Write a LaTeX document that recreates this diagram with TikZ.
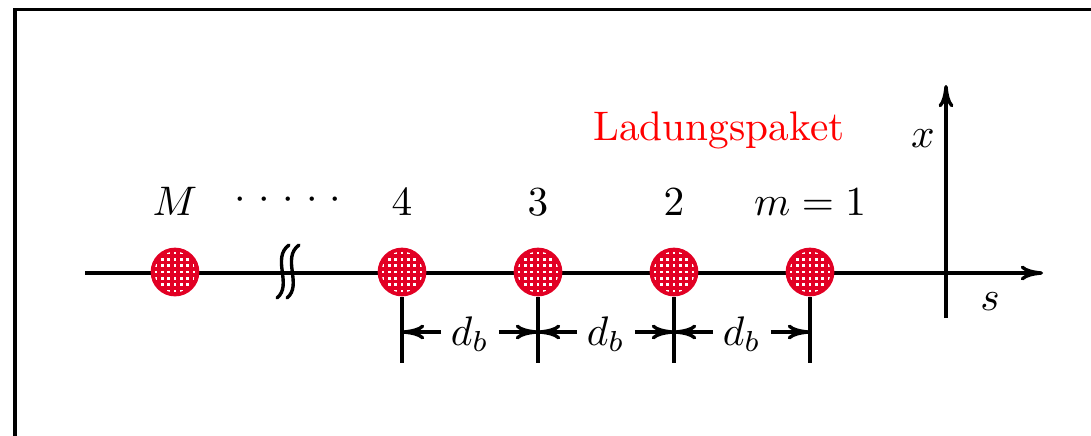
\documentclass[tikz,border=0pt]{standalone}
\usetikzlibrary{arrows.meta}
\definecolor{bunchred}{RGB}{226,0,36}
\begin{document}
\begin{tikzpicture}[x=0.2421pt,y=-0.2421pt,
  ax/.style={line width=0.82pt},
  tipped/.style={-{Computer Modern Rightarrow[length=5.4pt,width=3.6pt]}},
  lbl/.style={inner sep=0pt,anchor=base},
  dimlbl/.style={lbl,inner xsep=2.2pt},
  bunch/.style={circle,fill=bunchred,draw=none,inner sep=0pt,minimum size=11.8pt,
    path picture={
      \clip (path picture bounding box.center) circle (20.5);
      \foreach \i in {-3,...,3}{
        \foreach \j in {-3,...,3}{
          \fill[white] ([shift={(\i*6.3-1.3,\j*6.3-1.3)}]path picture bounding box.center) rectangle ++(2.6,2.6);
        }
      }
    }},
]
\useasboundingbox (0,0) rectangle (1091,435);
% frame
\draw[line width=0.95pt] (15,437) -- (15,9.5) -- (1093,9.5);
% axes
\coordinate (sL) at (85,273);
\coordinate (sR) at (1043,273);
\coordinate (xB) at (946,318);
\coordinate (xT) at (946,85);
\draw[ax,tipped] (sL) -- (sR);
\draw[ax,tipped] (xB) -- (xT);
\node[lbl] (xlab) at (923,147) {$x$};
\node[lbl] (slab) at (990,310) {$s$};
% break symbol
\draw[ax,line cap=round] (277,298) .. controls (293,285) and (271,258) .. (289,245);
\draw[ax,line cap=round] (287,298) .. controls (303,285) and (281,258) .. (299,245);
% bunches
\node[bunch] (bM) at (175,272) {};
\node[bunch] (b4) at (402,272) {};
\node[bunch] (b3) at (538,272) {};
\node[bunch] (b2) at (674,272) {};
\node[bunch] (b1) at (810,272) {};
% labels
\node[lbl] (lM) at (175,215) {$M$};
\node[lbl] (ldots) at (288,209) {${\cdot}\hspace{3pt}{\cdot}\hspace{3pt}{\cdot}\hspace{3pt}{\cdot}\hspace{3pt}{\cdot}$};
\node[lbl] (l4) at (402,215) {$4$};
\node[lbl] (l3) at (538,215) {$3$};
\node[lbl] (l2) at (674,215) {$2$};
\node[lbl] (l1) at (810,215) {$m=1$};
\node[lbl,text=red] (title) at (719,140) {Ladungspaket};
% dimension ticks
\coordinate (base) at (0,363);
\coordinate (dimy) at (0,332);
\foreach \b in {b4,b3,b2,b1}{
  \draw[ax] (\b.south) -- (\b.south |- base);
}
\node[dimlbl] (d43) at (470,345) {$d_b$};
\node[dimlbl] (d32) at (606,345) {$d_b$};
\node[dimlbl] (d21) at (742,345) {$d_b$};
\draw[ax,tipped] (d43.west |- dimy) -- (b4 |- dimy);
\draw[ax,tipped] (d43.east |- dimy) -- (b3 |- dimy);
\draw[ax,tipped] (d32.west |- dimy) -- (b3 |- dimy);
\draw[ax,tipped] (d32.east |- dimy) -- (b2 |- dimy);
\draw[ax,tipped] (d21.west |- dimy) -- (b2 |- dimy);
\draw[ax,tipped] (d21.east |- dimy) -- (b1 |- dimy);
\end{tikzpicture}
\end{document}
